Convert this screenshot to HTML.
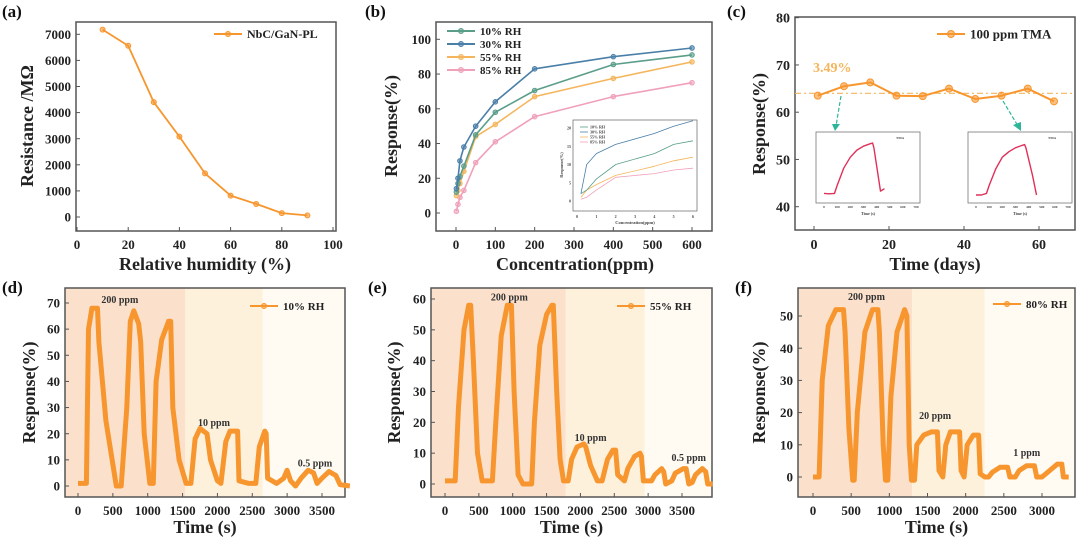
<!DOCTYPE html>
<html><head><meta charset="utf-8"><style>
html,body{margin:0;padding:0;background:#fff}
svg{display:block;font-family:"Liberation Serif",serif;font-weight:bold}
</style></head><body>
<svg id="fig" width="1080" height="542" viewBox="0 0 1080 542" xmlns="http://www.w3.org/2000/svg"></svg>
<script>
// ---- data ----
const aHumidity=[10,20,30,40,50,60,70,80,90];
const aResistance=[7180,6560,4400,3080,1670,820,500,150,60];
const bConc=[1,5,10,20,50,100,200,400,600];
const bRH10=[12,17,21,27,45,58,70.5,85.5,91];
const bRH30=[14,20,30,38,50,64,83,90,95];
const bRH55=[10,13,17,24,44,51,67,77.5,87];
const bRH85=[1,5,9,13,29,41,55.5,67,75];
const bInsetConc=[0.2,0.5,1,2,4,5,6];
const bInset10=[2,3,6,10,13,15.5,16.5];
const bInset30=[2,10,13,15.5,18.5,20.5,22];
const bInset55=[1,3,4.5,7,9.5,11,12];
const bInset85=[0.5,1,3,6.5,7.5,8.5,9];
const cDays=[1,8,15,22,29,36,43,50,57,64];
const cResp=[63.5,65.5,66.3,63.5,63.4,65,62.8,63.5,65,62.3];
const cInsetT=[0,40,80,100,150,200,250,300,350,370,380,430,460];
const cInsetL=[2,1.5,2,12,34,48,57,62,65,66,60,5,8];
const cInsetR=[0,0,2,12,33,48,55,60,63,64,60,25,0];
const dT=[0,120,150,200,280,300,400,550,620,700,750,800,870,900,950,1030,1080,1120,1200,1300,1330,1360,1450,1550,1620,1680,1750,1850,1900,2000,2050,2120,2180,2290,2310,2450,2550,2600,2680,2700,2720,2850,2950,3000,3050,3120,3200,3300,3380,3430,3500,3600,3700,3760,3900];
const dV=[1,1,60,68,68,55,25,0,0,30,63,67,62,55,20,1,1,40,56,63,63,30,10,1,1,18,22,20,10,2,1,17,21,21,2,1,1,15,21,20,3,1,3,6,2,0,3,6,5,1,3,5.5,4,0.5,0];
const eT=[0,150,200,280,350,380,420,480,550,700,750,830,920,980,1020,1080,1150,1280,1320,1400,1500,1580,1600,1650,1700,1750,1820,1870,1950,2050,2080,2150,2250,2320,2400,2480,2520,2550,2650,2700,2800,2880,2900,2930,3050,3100,3200,3230,3260,3350,3400,3520,3560,3600,3650,3700,3800,3850,3880,3950];
const eV=[1,1,25,50,58,58,40,10,1,1,20,48,58,58,30,3,0,0,20,45,55,58,58,30,8,1,1,8,12,13,12,6,1,1,8,11,11,3,1,5,9,10,9,1,1,3,5,4,0,1,3.5,5,5,0,0.5,3,5,4,0,0];
const fT=[0,80,120,200,300,400,420,470,520,540,580,680,780,850,870,920,950,980,1020,1100,1200,1230,1260,1290,1330,1360,1450,1550,1630,1650,1700,1740,1800,1920,1940,1980,2020,2100,2170,2190,2250,2300,2350,2450,2550,2580,2650,2700,2800,2900,2930,3000,3100,3200,3260,3280,3350];
const fV=[0,0,30,47,52,52,45,15,-1,-1,20,45,52,52,45,10,-1,-1,25,45,52,50,10,-1,-1,10,13,14,14,2,0,10,14,14,2,0,10,13,13,1,0,0,1.5,3,3,0,0,2,3.5,3.5,0,0,2,4,4,0,0];
const aYTicks=[0,1000,2000,3000,4000,5000,6000,7000];
const aXTicks=[0,20,40,60,80,100];
const bYTicks=[0,20,40,60,80,100];
const bXTicks=[0,100,200,300,400,500,600];
const cYTicks=[40,50,60,70,80];
const cXTicks=[0,20,40,60];
const deXTicks=[0,500,1000,1500,2000,2500,3000,3500];
const dYTicks=[0,10,20,30,40,50,60,70];
const eYTicks=[0,10,20,30,40,50,60];
const fYTicks=[0,10,20,30,40,50];
const fXTicks=[0,500,1000,1500,2000,2500,3000];

const NS="http://www.w3.org/2000/svg";
const svg=document.getElementById('fig');
function mk(tag,attrs,parent,txt){const e=document.createElementNS(NS,tag);for(const k in attrs)e.setAttribute(k,attrs[k]);if(txt!==undefined)e.textContent=txt;(parent||svg).appendChild(e);return e;}
function lin(v0,p0,v1,p1){return v=>p0+(v-v0)*(p1-p0)/(v1-v0);}
function group(name){const g=mk('g',{},svg);return g;}
function axes(g,b,sx,sy,xt,yt,fs){
  mk('rect',{x:b.x0,y:b.y0,width:b.x1-b.x0,height:b.y1-b.y0,fill:'none',stroke:'#555','stroke-width':1.5},g);
  const xg=mk('g',{},g);
  xt.forEach(v=>{const x=sx(v);mk('line',{x1:x,x2:x,y1:b.y1,y2:b.y1-4,stroke:'#555'},xg);
    mk('text',{x:x,y:b.y1+(fs+5),'font-size':fs,'text-anchor':'middle',fill:'#222'},xg,v);});
  const yg=mk('g',{},g);
  yt.forEach(v=>{const y=sy(v);mk('line',{x1:b.x0,x2:b.x0+4,y1:y,y2:y,stroke:'#555'},yg);
    mk('text',{x:b.x0-5,y:y+fs*0.35,'font-size':fs,'text-anchor':'end',fill:'#222'},yg,v);});
}
function titles(g,label,lx,ly,xt,xx,xy,yt,yx,yy){
  let t=mk('text',{x:lx,y:ly,'font-size':17,fill:'#111'},g,label);
  t=mk('text',{x:xx,y:xy,'font-size':18,'text-anchor':'middle',fill:'#222'},g,xt);
  t=mk('text',{x:yx,y:yy,'font-size':18,'text-anchor':'middle',fill:'#222',transform:`rotate(-90 ${yx} ${yy})`},g,yt);
}
function series(g,xs,ys,sx,sy,color,name,w,marker){
  const pts=xs.map((x,i)=>sx(x).toFixed(1)+','+sy(ys[i]).toFixed(1)).join(' ');
  const pl=mk('polyline',{points:pts,fill:'none',stroke:color,'stroke-width':w,'stroke-linejoin':'round'},g);
  
  if(marker)xs.forEach((x,i)=>{const c=mk('circle',{cx:sx(x),cy:sy(ys[i]),r:marker,fill:color,'fill-opacity':0.6,stroke:color},g);
    });
}
function legend(g,x,y,color,text,fs,r){
  const lg=mk('g',{},g);
  mk('line',{x1:x,x2:x+28,y1:y,y2:y,stroke:color,'stroke-width':2},lg);
  mk('circle',{cx:x+14,cy:y,r:r||2.5,fill:color,'fill-opacity':0.6,stroke:color},lg);
  mk('text',{x:x+33,y:y+fs*0.35,'font-size':fs,fill:'#222'},lg,text);
}
const OR='#f7962e';

// ---- (a) ----
{const g=group('panel-a-resistance');const b={x0:76,x1:336,y0:22,y1:231};
 const sx=lin(0,77,100,333),sy=lin(0,217,7000,34.3);
 axes(g,b,sx,sy,aXTicks,aYTicks,13);
 series(g,aHumidity,aResistance,sx,sy,OR,'resistance-line',1.8,2.5);
 legend(g,214,34,OR,'NbC/GaN-PL',12);
 titles(g,'(a)',2,17,'Relative humidity (%)',205,270,'Resistance /MΩ',33,126);}

// ---- (b) ----
{const g=group('panel-b-concentration');const b={x0:436,x1:712,y0:22,y1:231};
 const sx=lin(0,456,600,692),sy=lin(0,213,100,39.3);
 axes(g,b,sx,sy,bXTicks,bYTicks,13);
 const cols=['#5a9e8a','#4a7fa8','#f5b55c','#f0a0b8'];
 [[bRH85,'rh85-line',cols[3]],[bRH55,'rh55-line',cols[2]],[bRH10,'rh10-line',cols[0]],[bRH30,'rh30-line',cols[1]]].forEach(s=>series(g,bConc,s[0],sx,sy,s[2],s[1],1.6,2.3));
 legend(g,447,31,cols[0],'10% RH',11);legend(g,447,44,cols[1],'30% RH',11);legend(g,447,57,cols[2],'55% RH',11);legend(g,447,70,cols[3],'85% RH',11);
 const ig=mk('g',{},g);
 mk('rect',{x:573,y:120,width:124,height:91,fill:'#fff',stroke:'#777','stroke-width':0.8},ig);
 const ix=lin(0,577,6,693),iy=lin(0,201,20,128);
 [0,1,2,3,4,5,6].forEach(v=>mk('text',{x:ix(v),y:218,'font-size':4,'text-anchor':'middle',fill:'#444'},ig,v));
 [0,5,10,15,20].forEach(v=>mk('text',{x:571,y:iy(v)+1.5,'font-size':4,'text-anchor':'end',fill:'#444'},ig,v));
 [[bInset85,cols[3]],[bInset55,cols[2]],[bInset10,cols[0]],[bInset30,cols[1]]].forEach((s,i)=>series(ig,bInsetConc,s[0],ix,iy,s[1],'inset-line-'+i,0.8,0));
 ['10% RH','30% RH','55% RH','85% RH'].forEach((t,i)=>{mk('line',{x1:580,x2:588,y1:127+i*5,y2:127+i*5,stroke:cols[i],'stroke-width':0.8},ig);mk('text',{x:590,y:128.5+i*5,'font-size':4,fill:'#444'},ig,t);});
 mk('text',{x:635,y:224,'font-size':4.5,'text-anchor':'middle',fill:'#444'},ig,'Concentration(ppm)');
 mk('text',{x:563,y:165,'font-size':4.5,'text-anchor':'middle',fill:'#444',transform:'rotate(-90 563 165)'},ig,'Response(%)');
 titles(g,'(b)',365,17,'Concentration(ppm)',575,270,'Response(%)',397,126);}

// ---- (c) ----
{const g=group('panel-c-stability');const b={x0:795,x1:1075,y0:17,y1:230};
 const sx=lin(0,814,60,1039),sy=lin(40,206.7,80,17.7);
 axes(g,b,sx,sy,cXTicks,cYTicks,14);
 const ref=mk('line',{x1:b.x0,x2:b.x1,y1:sy(64),y2:sy(64),stroke:'#f5b55c','stroke-width':1.2,'stroke-dasharray':'6 3 2 3'},g);
 
 series(g,cDays,cResp,sx,sy,OR,'tma-response-line',2,3.5);
 legend(g,937,34,OR,'100 ppm TMA',13,3.5);
 let t=mk('text',{x:813,y:72,'font-size':14,fill:'#f5b55c'},g,'3.49%');
 mk('line',{x1:841,y1:96,x2:836,y2:126,stroke:'#2db59a','stroke-width':1.2,'stroke-dasharray':'4 2'},g);
 mk('path',{d:'M832,124 L840,124 L835,131 Z',fill:'#2db59a'},g);
 mk('line',{x1:1003,y1:101,x2:1018,y2:126,stroke:'#2db59a','stroke-width':1.2,'stroke-dasharray':'4 2'},g);
 mk('path',{d:'M1013,125 L1021,122 L1021,131 Z',fill:'#2db59a'},g);
 [[816,cInsetL,'inset-day-8'],[968,cInsetR,'inset-day-50']].forEach(ins=>{
   const ig=mk('g',{},g);
   const x0=ins[0];mk('rect',{x:x0,y:132,width:104,height:71,fill:'#fff',stroke:'#777','stroke-width':0.8},ig);
   const ix=lin(0,x0+8,700,x0+100),iy=lin(0,195,80,132);
   [0,100,200,300,400,500,600,700].forEach(v=>mk('text',{x:ix(v),y:208,'font-size':3.5,'text-anchor':'middle',fill:'#444'},ig,v));
   series(ig,cInsetT,ins[1],ix,iy,'#e0305a','tma-curve',1.4,0);
   mk('text',{x:x0+80,y:139,'font-size':3.5,fill:'#444'},ig,'TMA');
   mk('text',{x:x0+52,y:215,'font-size':4,'text-anchor':'middle',fill:'#444'},ig,'Time (s)');
 });
 titles(g,'(c)',727,17,'Time (days)',935,270,'Response(%)',765,124);}

// ---- bottom panels ----
function tsPanel(name,label,b,sx,sy,xt,yt,ts,vs,s1,s2,lbl,legTxt,lx,ly,yx){
  const g=group(name);
  const bg=mk('g',{},g);
  mk('rect',{x:b.x0,y:b.y0,width:sx(s1)-b.x0,height:b.y1-b.y0,fill:'#fbe1cc'},bg);
  mk('rect',{x:sx(s1),y:b.y0,width:sx(s2)-sx(s1),height:b.y1-b.y0,fill:'#fef1dc'},bg);
  mk('rect',{x:sx(s2),y:b.y0,width:b.x1-sx(s2),height:b.y1-b.y0,fill:'#fffaf2'},bg);
  axes(g,b,sx,sy,xt,yt,13);
  series(g,ts,vs,sx,sy,OR,'response-trace',5,0);
  lbl.forEach(l=>{const t=mk('text',{x:sx(l[0]),y:sy(l[1]),'font-size':10,'text-anchor':'middle',fill:'#333'},g,l[2]);});
  legend(g,lx,ly,OR,legTxt,11);
  titles(g,label,b.x0-63,293,'Time (s)',(b.x0+b.x1)/2,533,'Response(%)',yx,(b.y0+b.y1)/2);
}
{const b={x0:65,x1:345,y0:288,y1:497};
 tsPanel('panel-d-10rh','(d)',b,lin(0,78,3500,322),lin(0,486,70,303),deXTicks,dYTicks,dT,dV,1540,2650,[[600,70,'200 ppm'],[1950,23,'10 ppm'],[3400,7.5,'0.5 ppm']],'10% RH',250,306,35);}
{const b={x0:431,x1:712,y0:288,y1:497};
 tsPanel('panel-e-55rh','(e)',b,lin(0,445,3500,682),lin(0,484,60,299),deXTicks,eYTicks,eT,eV,1780,2950,[[950,59.5,'200 ppm'],[2150,14,'10 ppm'],[3600,7.5,'0.5 ppm']],'55% RH',617,306,400);}
{const b={x0:798,x1:1075,y0:288,y1:497};
 tsPanel('panel-f-80rh','(f)',b,lin(0,813,3000,1042),lin(0,477,50,316),fXTicks,fYTicks,fT,fV,1300,2250,[[700,55,'200 ppm'],[1600,18,'20 ppm'],[2800,6.5,'1 ppm']],'80% RH',993,304,765);}
</script>
</body></html>
